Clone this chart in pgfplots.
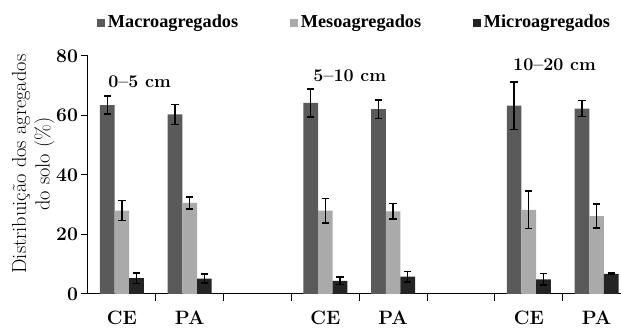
\documentclass[border=0pt]{standalone}
\usepackage{fontspec}
\newfontfamily\legfont{Liberation Serif}
\usepackage{pgfplots}
\usepackage{pgfplotstable}
\pgfplotsset{compat=1.18}
\definecolor{macro}{HTML}{5A5A5A}
\definecolor{meso}{HTML}{AAAAAA}
\definecolor{micro}{HTML}{242424}
\pgfplotstableread{
x y e
0 63.5 3.0
1 60.4 3.4
3 64.2 4.7
4 62.1 3.1
6 63.3 8.0
7 62.3 2.7
}\macrotab
\pgfplotstableread{
x y e
0 28.0 3.4
1 30.6 2.0
3 28.0 4.1
4 27.8 2.6
6 28.3 6.3
7 26.2 4.0
}\mesotab
\pgfplotstableread{
x y e
0 5.3 1.7
1 5.2 1.5
3 4.4 1.3
4 5.8 1.8
6 4.9 1.9
7 6.8 0.3
}\microtab
\newcommand\labfont{\fontsize{15.3}{17.5}\selectfont}
\newcommand\grpfont{\fontsize{13.4}{15}\selectfont\bfseries}
\begin{document}
\begin{tikzpicture}
\begin{axis}[name=ax,
 scale only axis, width=399.75pt, height=178.5pt,
 xmin=-0.5, xmax=7.36, ymin=0, ymax=80,
 axis lines=left, axis line style={line width=0.75pt, -},
 ybar=0pt, bar width=11pt,
 xtick={0.5,1.5,...,6.5}, xticklabels={},
 extra x ticks={0,1,3,4,6,7},
 extra x tick labels={CE,PA,CE,PA,CE,PA},
 extra x tick style={major tick length=0pt},
 ytick={0,20,...,80},
 tick align=outside, major tick length=5pt,
 tick style={line width=0.75pt, black},
 /pgf/number format/assume math mode=true,
 ticklabel style={font=\fontsize{14.5}{16}\selectfont\bfseries},
 xticklabel style={yshift=-9pt},
 yticklabel style={xshift=1pt},
 ylabel={\labfont Distribuição dos agregados\\\labfont do solo (\%)},
 ylabel style={at={(axis description cs:0,0.546)}, anchor=center, yshift=41pt, align=center, font=\labfont},
 legend columns=3,
 legend style={at={(axis description cs:0,1)}, anchor=west, xshift=6.75pt, yshift=25pt, draw=none, inner sep=0pt,
   font=\legfont\bfseries\fontsize{13.7}{16}\selectfont,
   /tikz/every even column/.append style={column sep=37pt}},
 legend image code/.code={\fill[#1] (0pt,-3pt) rectangle (6pt,3pt);},
 error bars/y dir=both, error bars/y explicit,
 error bars/error bar style={line width=1pt, black},
 error bars/error mark options={rotate=90, black, line width=1pt, mark size=2.75pt},
]
\addplot[fill=macro, draw=none] table[x=x, y=y, y error=e] {\macrotab};
\addplot[fill=meso, draw=none] table[x=x, y=y, y error=e] {\mesotab};
\addplot[fill=micro, draw=none] table[x=x, y=y, y error=e] {\microtab};
\legend{Macroagregados, Mesoagregados, Microagregados}
\node[font=\grpfont] at (axis cs:0.26,71.4) {0--5 cm};
\node[font=\grpfont] at (axis cs:3.36,73.4) {5--10 cm};
\node[font=\grpfont] at (axis cs:6.38,77) {10--20 cm};
\end{axis}
\pgfresetboundingbox
\path[use as bounding box] (ax.south west) ++(-66pt,-27.75pt) rectangle ([yshift=42pt]ax.north east);
\end{tikzpicture}
\end{document}
